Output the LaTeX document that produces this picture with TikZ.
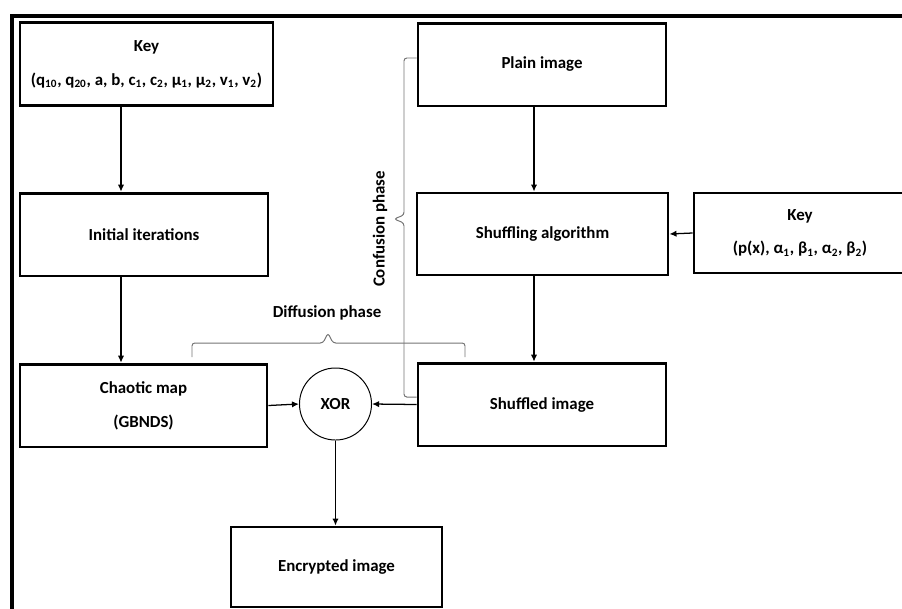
\documentclass[tikz,border=0pt]{standalone}
\usepackage{fontspec}
\setmainfont{Carlito}
\usepackage{tikz}
\usetikzlibrary{arrows.meta}
\tikzset{
  blk/.style={draw,line width=2pt,minimum width=6.2cm,minimum height=2.07cm,inner sep=0pt,align=center,font=\fontsize{12}{14}\selectfont\bfseries},
  arr/.style={-{Latex[length=5pt,width=4.5pt]},line width=0.9pt},
  brc/.style={draw=black!55,line width=0.7pt,rounded corners=2pt},
  lbl/.style={font=\fontsize{12}{14}\selectfont\bfseries,inner sep=1pt}
}
\newcommand{\sub}[1]{\textsubscript{#1}}

\begin{document}
\begin{tikzpicture}[x=0.025cm,y=-0.025cm]
  \useasboundingbox (0,0) rectangle (902,608);
  \clip (0,0) rectangle (902,608);
  \draw[line width=2.2pt] (12,640) -- (12,16) -- (930,16);
  % left column
  \node[blk,minimum width=6.32cm] (key) at (146.5,64) {Key\\[10pt](q\sub{10}, q\sub{20}, a, b, c\sub{1}, c\sub{2}, μ\sub{1}, μ\sub{2}, v\sub{1}, v\sub{2})};
  \node[blk] (init) at (144,234.5) {Initial iterations};
  \node[blk,minimum width=6.175cm] (chaos) at (143.5,405.5) {Chaotic map\\[10pt](GBNDS)};
  % right column
  \node[blk] (plain) at (542,64.5) {Plain image};
  \node[blk,minimum width=6.275cm,minimum height=2.05cm] (shuf) at (542.5,234) {Shuffling algorithm};
  \node[blk,minimum width=5.3cm,minimum height=2cm] (keyr) at (800,233) {Key\\[10pt](p(x), α\sub{1}, β\sub{1}, α\sub{2}, β\sub{2})};
  \node[blk] (shufd) at (542,404.5) {Shuffled image};
  \node[draw,circle,line width=0.7pt,minimum size=1.8cm,inner sep=0pt,font=\fontsize{12}{14}\selectfont\bfseries] (xor) at (335.5,404) {XOR};
  \node[blk,minimum width=5.275cm,minimum height=2cm] (enc) at (336.5,567) {Encrypted image};
  \coordinate (lx) at (121,0);
  \coordinate (rx) at (534,0);
  \draw[arr] (key.south -| lx) -- (init.north -| lx);
  \draw[arr] (init.south -| lx) -- (chaos.north -| lx);
  \draw[arr] (plain.south -| rx) -- (shuf.north -| rx);
  \draw[arr] (shuf.south -| rx) -- (shufd.north -| rx);
  \draw[arr] (keyr.west) -- (shuf.east);
  \draw[arr] (chaos.east) -- (xor.west);
  \draw[arr] (shufd.west) -- (xor.east);
  \draw[arr] (xor.south) -- (enc.north -| xor.south);
  % phases
  \draw[brc] (plain.west |- 0,58) -- (404,58) -- (404,215) -- (394,219) -- (404,223) -- (404,397) -- (shufd.west |- 0,397);
  \draw[brc] (192,357) -- (192,343) -- (323,343) -- (328,333) -- (333,343) -- (465,343) -- (465,357);
  \node[lbl] (dif) at (327,313) {Diffusion phase};
  \node[lbl,rotate=90] (con) at (380,229) {Confusion phase};
\end{tikzpicture}
\end{document}
